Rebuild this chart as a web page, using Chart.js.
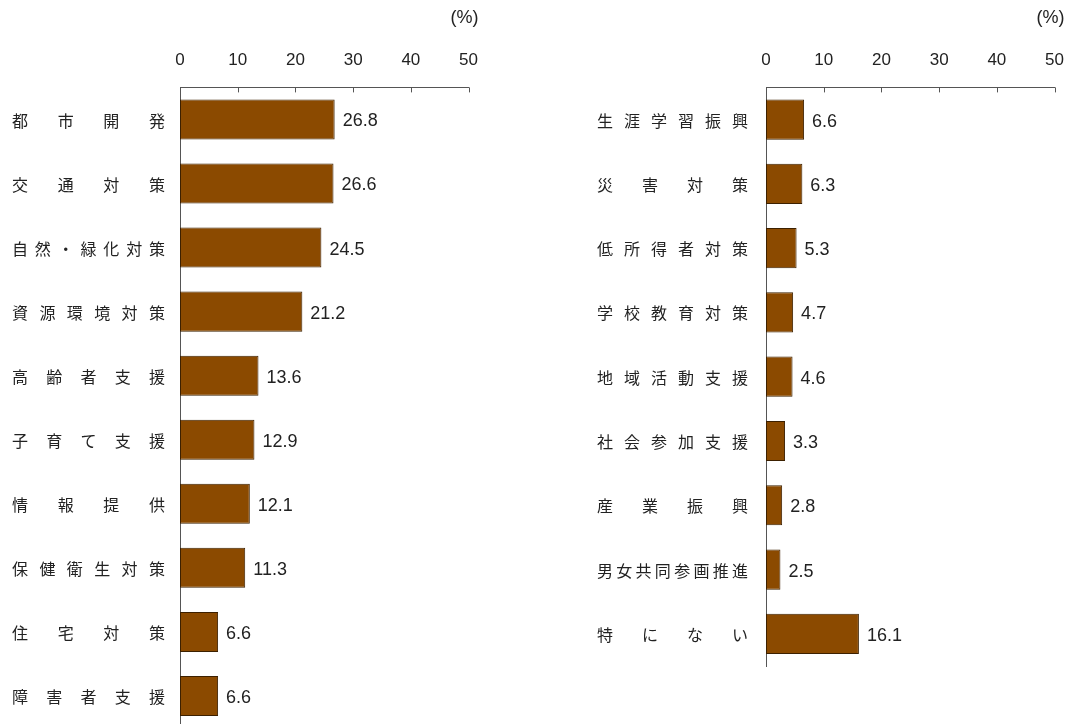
<!DOCTYPE html>
<html>
<head>
<meta charset="utf-8">
<script src="https://cdn.jsdelivr.net/npm/chart.js@4.4.0/dist/chart.umd.min.js"></script>
<style>
  html, body { margin: 0; padding: 0; background: #fff; overflow: hidden; }
  #wrap { position: relative; width: 1069px; height: 724px; overflow: hidden; }
  .box { position: absolute; top: 0; }
</style>
</head>
<body>
<div id="wrap">
  <div class="box" style="left:0;width:495px;height:740px"><canvas id="leftChart"></canvas></div>
  <div class="box" style="left:580px;width:501px;height:680px"><canvas id="rightChart"></canvas></div>
</div>
<script>
const leftLabels = ['都市開発', '交通対策', '自然・緑化対策', '資源環境対策', '高齢者支援', '子育て支援', '情報提供', '保健衛生対策', '住宅対策', '障害者支援'];
const leftValues = [26.8, 26.6, 24.5, 21.2, 13.6, 12.9, 12.1, 11.3, 6.6, 6.6];

const rightLabels = ['生涯学習振興', '災害対策', '低所得者対策', '学校教育対策', '地域活動支援', '社会参加支援', '産業振興', '男女共同参画推進', '特にない'];
const rightValues = [6.6, 6.3, 5.3, 4.7, 4.6, 3.3, 2.8, 2.5, 16.1];

const xTicks = [0, 10, 20, 30, 40, 50];
const unitLabel = '(%)';

const FONT = '"Noto Sans CJK JP", "Noto Sans", sans-serif';
const NUM_FONT = '"Liberation Sans", Arial, sans-serif';
const TEXT = '#222';

// justified category labels, value labels, inward ticks, unit
const decorPlugin = {
  id: 'decor',
  afterDraw(chart, args, opts) {
    const ctx = chart.ctx;
    const x = chart.scales.x;
    const y = chart.scales.y;
    const area = chart.chartArea;
    ctx.save();

    // tick marks pointing into the plot
    ctx.strokeStyle = '#555';
    ctx.lineWidth = 1;
    xTicks.forEach(t => {
      const px = Math.round(x.getPixelForValue(t)) + 0.5;
      ctx.beginPath();
      ctx.moveTo(px, area.top);
      ctx.lineTo(px, area.top + 5);
      ctx.stroke();
    });

    ctx.fillStyle = TEXT;
    ctx.font = '16px ' + FONT;
    ctx.textBaseline = 'middle';

    // category labels spread over a fixed width
    chart.data.labels.forEach((lab, i) => {
      const cy = y.getPixelForValue(i) + 1;
      const chars = Array.from(lab);
      const widths = chars.map(c => ctx.measureText(c).width);
      const total = widths.reduce((a, b) => a + b, 0);
      const gap = chars.length > 1 ? (opts.labelRight - opts.labelLeft - total) / (chars.length - 1) : 0;
      let cx = opts.labelLeft;
      ctx.textAlign = 'left';
      chars.forEach((c, k) => {
        ctx.fillText(c, cx, cy);
        cx += widths[k] + gap;
      });
    });

    // value labels
    ctx.font = '18px ' + NUM_FONT;
    const vals = chart.data.datasets[0].data;
    ctx.textAlign = 'left';
    vals.forEach((v, i) => {
      ctx.fillText(v.toFixed(1), x.getPixelForValue(v) + 8, y.getPixelForValue(i) + 2);
    });

    // unit
    ctx.textAlign = 'right';
    ctx.fillText(unitLabel, area.right + 10, 18);
    ctx.restore();
  }
};

function makeChart(id, labels, values, padLeft, padRight, padBottom, labelLeft, labelRight) {
  return new Chart(document.getElementById(id), {
    type: 'bar',
    data: {
      labels: labels,
      datasets: [{
        data: values,
        backgroundColor: '#8B4A00',
        borderColor: '#3C2000',
        borderWidth: 1,
        borderSkipped: false,
        barPercentage: 0.625,
        categoryPercentage: 1
      }]
    },
    options: {
      indexAxis: 'y',
      responsive: true,
      maintainAspectRatio: false,
      animation: false,
      layout: { padding: { left: padLeft, right: padRight, top: 33, bottom: padBottom } },
      plugins: {
        legend: { display: false },
        tooltip: { enabled: false },
        decor: { labelLeft: labelLeft, labelRight: labelRight }
      },
      scales: {
        x: {
          position: 'top',
          min: 0,
          max: 50,
          afterBuildTicks: scale => { scale.ticks = xTicks.map(v => ({ value: v })); },
          ticks: { color: TEXT, font: { family: NUM_FONT, size: 17 }, padding: 17, maxRotation: 0 },
          grid: { display: false, drawTicks: false },
          border: { display: true, color: '#555', width: 1 }
        },
        y: {
          ticks: { display: false },
          grid: { display: false, drawTicks: false },
          border: { display: true, color: '#555', width: 1 },
          afterFit: scale => { scale.width = 0; }
        }
      }
    },
    plugins: [decorPlugin]
  });
}

makeChart('leftChart', leftLabels, leftValues, 180, 0, 12, 12, 165);
makeChart('rightChart', rightLabels, rightValues, 186, 0, 14, 17, 168);
</script>
</body>
</html>
